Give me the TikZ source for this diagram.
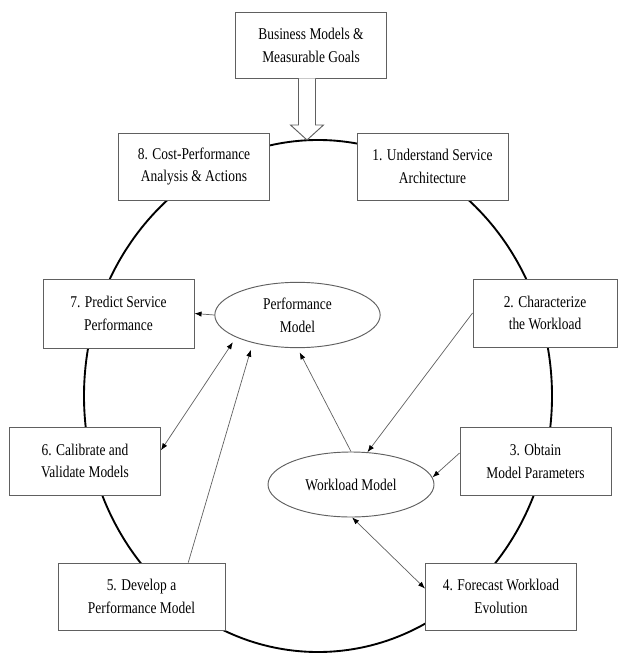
\documentclass[tikz,border=0pt]{standalone}
\usepackage{fontspec}
\setmainfont{Liberation Serif}[FakeStretch=0.82]
\usetikzlibrary{shapes.geometric,arrows.meta,calc}

\tikzset{
  stage/.style={draw=gray!75!black, line width=0.8pt, fill=white, inner sep=0pt,
    minimum width=4.53cm, minimum height=2.01cm, align=center, text=black,
    font=\fontsize{14}{19.5}\selectfont},
  model/.style={stage, ellipse, minimum width=4.96cm, minimum height=1.96cm},
  ring/.style={line width=1.6pt},
  link/.style={draw=gray!75!black, line width=0.6pt, -{Latex[length=6pt,width=4.5pt,color=black]}},
  twoway/.style={link, {Latex[length=6pt,width=4.5pt,color=black]}-{Latex[length=6pt,width=4.5pt,color=black]}},
  hollow/.style={draw=gray!75!black, line width=0.8pt, fill=white}
}

\begin{document}
\begin{tikzpicture}[x=0.03cm, y=-0.03cm]
\useasboundingbox (0,0) rectangle (619,655);

\draw[ring] (318,396) ellipse [x radius=234, y radius=256];
\coordinate (tip) at (307,140);

\node[stage, minimum height=1.98cm] (goals) at (311,45) {Business Models \&\\Measurable Goals};
\node[stage] (b8) at (194,166.5) {8. Cost-Performance\\Analysis \& Actions};
\node[stage] (b1) at (432.5,166.5) {1. Understand Service\\Architecture};
\node[stage, minimum height=2.07cm] (b7) at (118.5,313.5) {7. Predict Service\\Performance};
\node[stage, minimum width=4.32cm, minimum height=2.04cm] (b2) at (545,313) {2. Characterize\\the Workload};
\node[stage, minimum height=2.04cm] (b6) at (85,461) {6. Calibrate and\\Validate Models};
\node[stage, minimum height=2.04cm] (b3) at (535.5,461) {3. Obtain\\Model Parameters};
\node[stage, minimum width=5.01cm] (b5) at (141.5,596.5) {5. Develop a\\Performance Model};
\node[stage] (b4) at (501,596.5) {4. Forecast Workload\\Evolution};

\node[model] (perf) at (297.5,315) {Performance\\Model};
\node[model, minimum width=4.98cm, minimum height=1.95cm] (wl) at (351,484.5) {Workload Model};

\draw[hollow] ($(tip|-goals.south)+(-8.5,0)$) -- ($(tip)+(-8.5,-15)$) -- ($(tip)+(-16.5,-15)$)
  -- (tip) -- ($(tip)+(16.5,-15)$) -- ($(tip)+(8.5,-15)$) -- ($(tip|-goals.south)+(8.5,0)$);

\draw[link] (perf.west) -- (b7.east);
\draw[twoway, shorten >=5pt] (b6.8) -- (perf.200);
\draw[link, shorten >=6pt] (b5.36) -- (perf.212);
\draw[link, shorten >=4pt] (wl.north) -- (perf.270);
\draw[link] (b2.west) -- (wl.63);
\draw[link] (b3.174) -- (wl.5);
\draw[twoway] (wl.272) -- (b4.174);
\end{tikzpicture}
\end{document}
